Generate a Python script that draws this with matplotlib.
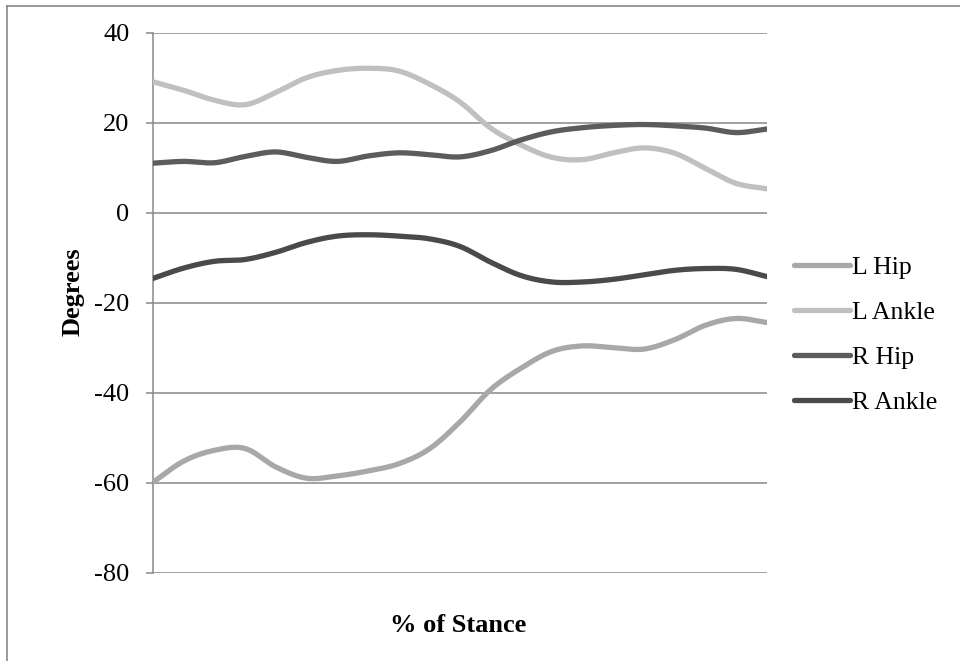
import numpy as np
import matplotlib.pyplot as plt
from matplotlib.lines import Line2D

plt.rcParams['font.family'] = ['Liberation Serif', 'DejaVu Serif']
plt.rcParams['axes.unicode_minus'] = False

# % of stance, 21 samples (0, 5, ..., 100)
stance = np.arange(0, 101, 5)

l_hip = [-59.9, -55.2, -52.8, -52.4, -56.5, -59.0, -58.5, -57.4, -55.8, -52.5, -46.5,
         -39.3, -34.5, -30.8, -29.6, -30.0, -30.3, -28.2, -25.0, -23.5, -24.4]
l_ankle = [29.1, 27.2, 25.0, 24.0, 26.7, 30.0, 31.6, 32.1, 31.5, 28.6, 24.6,
           18.8, 15.0, 12.3, 11.8, 13.3, 14.4, 13.2, 9.8, 6.5, 5.3]
r_hip = [11.0, 11.4, 11.1, 12.5, 13.5, 12.3, 11.4, 12.6, 13.3, 12.9, 12.4,
         13.8, 16.2, 18.0, 18.9, 19.4, 19.6, 19.3, 18.8, 17.8, 18.6]
r_ankle = [-14.6, -12.3, -10.8, -10.4, -8.8, -6.6, -5.2, -4.9, -5.2, -5.8, -7.5,
           -11.0, -14.0, -15.4, -15.4, -14.8, -13.8, -12.8, -12.4, -12.6, -14.2]

names = ['L Hip', 'L Ankle', 'R Hip', 'R Ankle']
colors = ['#a8a8a8', '#c0c0c0', '#5c5c5c', '#4a4a4a']
yticks = [-80, -60, -40, -20, 0, 20, 40]


def smooth(x, y, n=20):
    # catmull-rom curve through the points, like a spreadsheet "smoothed line"
    x = np.asarray(x, float)
    y = np.asarray(y, float)
    px = np.concatenate([[2 * x[0] - x[1]], x, [2 * x[-1] - x[-2]]])
    py = np.concatenate([[2 * y[0] - y[1]], y, [2 * y[-1] - y[-2]]])
    t = np.linspace(0, 1, n, endpoint=False)
    xs, ys = [], []
    for i in range(1, len(px) - 2):
        for p, out in ((px, xs), (py, ys)):
            p0, p1, p2, p3 = p[i - 1], p[i], p[i + 1], p[i + 2]
            out.extend(0.5 * ((2 * p1) + (-p0 + p2) * t +
                              (2 * p0 - 5 * p1 + 4 * p2 - p3) * t ** 2 +
                              (-p0 + 3 * p1 - 3 * p2 + p3) * t ** 3))
    xs.append(x[-1])
    ys.append(y[-1])
    return np.array(xs), np.array(ys)


fig = plt.figure(figsize=(9.6, 6.61), dpi=100)
ax = fig.add_axes([153 / 960, 1 - 572.7 / 661, (767 - 153) / 960, (572.7 - 32.7) / 661])

for vals, name, c in zip([l_hip, l_ankle, r_hip, r_ankle], names, colors):
    sx, sy = smooth(stance, vals)
    ax.plot(sx, sy, color=c, lw=3.8, solid_capstyle='round', label=name, zorder=3)

ax.set_xlim(stance[0], stance[-1])
ax.set_ylim(-80, 40)
ax.set_yticks(yticks)
ax.set_xticks([])
ax.grid(axis='y', color='#878787', lw=1.1)
for s in ['top', 'right', 'bottom']:
    ax.spines[s].set_visible(False)
ax.spines['left'].set_color('#878787')
ax.spines['left'].set_linewidth(1.1)
ax.tick_params(axis='y', length=5, width=1.1, color='#878787', labelsize=19, pad=12)

fig.text(73 / 960, 1 - 292 / 661, 'Degrees', rotation=90, ha='center', va='center',
         fontsize=19, fontweight='bold')
fig.text(458 / 960, 1 - 626 / 661, '% of Stance', ha='center', va='center',
         fontsize=19, fontweight='bold')

handles = [Line2D([0], [0], color=c, lw=3.8, solid_capstyle='round') for c in colors]
fig.legend(handles, names, loc='center left', bbox_to_anchor=(784 / 960, 1 - 335 / 661),
           frameon=False, fontsize=18.5, handlelength=2.15, handletextpad=0.1,
           labelspacing=0.85, borderaxespad=0)

# outer chart border (only left and top visible)
fig.add_artist(Line2D([7 / 960, 7 / 960], [0, 1 - 6 / 661], color='#878787', lw=1.2))
fig.add_artist(Line2D([7 / 960, 1], [1 - 6 / 661, 1 - 6 / 661], color='#878787', lw=1.2))

fig.savefig('out.png', dpi=100)
